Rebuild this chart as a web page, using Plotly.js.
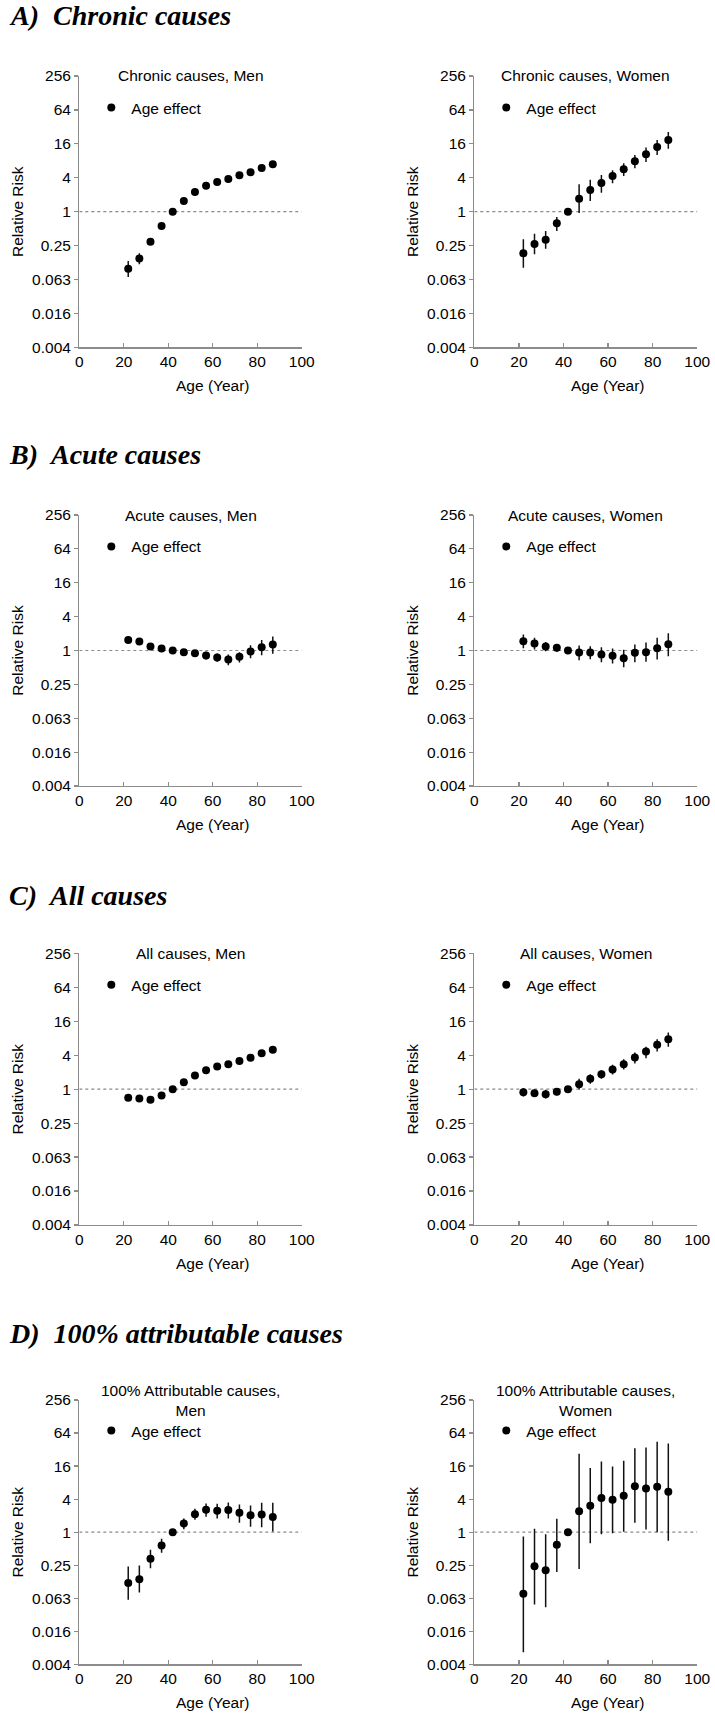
<!DOCTYPE html>
<html>
<head>
<meta charset="utf-8">
<script src="https://cdn.plot.ly/plotly-3.0.1.min.js"></script>
<style>
  body { margin: 0; background: #fff; }
  #chart { width: 715px; height: 1714px; }
</style>
</head>
<body>
<div id="chart"></div>
<script>
var W = 715, H = 1714;

// age groups (mid-points, years)
var ages = [22, 27, 32, 37, 42, 47, 52, 57, 62, 67, 72, 77, 82, 87];

// y axis: powers of 4, labelled the way the original does
var yTickVals = [0.00390625, 0.015625, 0.0625, 0.25, 1, 4, 16, 64, 256];
var yTickText = ['0.004', '0.016', '0.063', '0.25', '1', '4', '16', '64', '256'];
var xTickVals = [0, 20, 40, 60, 80, 100];
var refRR = 1;

// A) chronic causes
var chronicMen     = [0.097, 0.148, 0.293, 0.557, 1, 1.55, 2.23, 2.89, 3.36, 3.80, 4.42, 4.99, 5.96, 6.92];
var chronicMenHi   = [0.133, 0.182, 0.325, 0.60, 1, 1.65, 2.38, 3.07, 3.56, 4.02, 4.68, 5.30, 6.35, 7.45];
var chronicMenLo   = [0.069, 0.116, 0.262, 0.515, 1, 1.45, 2.09, 2.72, 3.17, 3.59, 4.17, 4.70, 5.60, 6.43];
var chronicWomen   = [0.182, 0.267, 0.318, 0.621, 1, 1.70, 2.42, 3.23, 4.30, 5.64, 7.82, 10.4, 14.1, 18.7];
var chronicWomenHi = [0.323, 0.407, 0.454, 0.804, 1, 3.06, 3.70, 4.48, 5.42, 7.21, 10.1, 13.7, 18.7, 25.9];
var chronicWomenLo = [0.101, 0.175, 0.220, 0.454, 1, 0.947, 1.55, 2.17, 3.18, 4.30, 5.88, 7.61, 10.1, 13.1];

// B) acute causes
var acuteMen     = [1.53, 1.45, 1.18, 1.085, 1, 0.934, 0.897, 0.815, 0.751, 0.692, 0.772, 0.960, 1.146, 1.278];
var acuteMenHi   = [1.75, 1.63, 1.33, 1.19, 1, 1.04, 1.0, 0.947, 0.885, 0.849, 0.934, 1.244, 1.53, 1.77];
var acuteMenLo   = [1.33, 1.28, 1.04, 0.976, 1, 0.837, 0.79, 0.692, 0.629, 0.549, 0.612, 0.731, 0.826, 0.872];
var acuteWomen   = [1.465, 1.33, 1.18, 1.115, 1, 0.921, 0.921, 0.849, 0.804, 0.731, 0.909, 0.934, 1.10, 1.296];
var acuteWomenHi = [1.925, 1.68, 1.41, 1.31, 1, 1.227, 1.194, 1.146, 1.085, 1.028, 1.278, 1.387, 1.68, 2.03];
var acuteWomenLo = [1.10, 1.04, 0.973, 0.947, 1, 0.673, 0.701, 0.620, 0.587, 0.506, 0.620, 0.629, 0.692, 0.793];

// C) all causes
var allMen     = [0.702, 0.683, 0.647, 0.772, 1, 1.33, 1.747, 2.17, 2.52, 2.77, 3.14, 3.59, 4.35, 4.98];
var allMenHi   = [0.74, 0.72, 0.68, 0.81, 1, 1.39, 1.82, 2.26, 2.62, 2.88, 3.27, 3.74, 4.55, 5.22];
var allMenLo   = [0.665, 0.645, 0.61, 0.73, 1, 1.26, 1.67, 2.07, 2.40, 2.65, 3.0, 3.43, 4.15, 4.75];
var allWomen   = [0.885, 0.849, 0.815, 0.897, 1, 1.226, 1.525, 1.845, 2.23, 2.77, 3.64, 4.65, 6.10, 7.69];
var allWomenHi = [1.04, 0.986, 0.973, 1.014, 1, 1.525, 1.845, 2.17, 2.70, 3.40, 4.47, 5.62, 7.69, 10.1];
var allWomenLo = [0.741, 0.731, 0.683, 0.783, 1, 0.986, 1.243, 1.525, 1.82, 2.23, 2.85, 3.54, 4.65, 5.62];

// D) 100% attributable causes
var attribMen     = [0.119, 0.139, 0.327, 0.572, 1, 1.44, 2.13, 2.55, 2.45, 2.52, 2.25, 2.04, 2.10, 1.88];
var attribMenHi   = [0.237, 0.247, 0.476, 0.756, 1, 1.774, 2.66, 3.33, 3.28, 3.47, 3.19, 3.06, 3.42, 3.42];
var attribMenLo   = [0.0584, 0.0795, 0.221, 0.420, 1, 1.134, 1.68, 1.90, 1.774, 1.774, 1.48, 1.25, 1.233, 1.028];
var attribWomen   = [0.0752, 0.240, 0.203, 0.588, 1, 2.41, 3.02, 4.17, 3.88, 4.60, 6.89, 6.25, 6.70, 5.43];
var attribWomenHi = [0.834, 1.15, 0.920, 1.75, 1, 26.8, 14.7, 19.4, 15.7, 20.0, 33.9, 34.9, 44.3, 41.3];
var attribWomenLo = [0.0065, 0.048, 0.043, 0.187, 1, 0.212, 0.630, 0.920, 0.959, 1.014, 1.48, 1.118, 1.0, 0.695];

var headings = ['A)\u00a0 Chronic causes', 'B)\u00a0 Acute causes', 'C)\u00a0 All causes', 'D)\u00a0 100% attributable causes'];

var panels = [
    {title: 'Chronic causes, Men', rr: chronicMen, hi: chronicMenHi, lo: chronicMenLo},
    {title: 'Chronic causes, Women', rr: chronicWomen, hi: chronicWomenHi, lo: chronicWomenLo},
    {title: 'Acute causes, Men', rr: acuteMen, hi: acuteMenHi, lo: acuteMenLo},
    {title: 'Acute causes, Women', rr: acuteWomen, hi: acuteWomenHi, lo: acuteWomenLo},
    {title: 'All causes, Men', rr: allMen, hi: allMenHi, lo: allMenLo},
    {title: 'All causes, Women', rr: allWomen, hi: allWomenHi, lo: allWomenLo},
    {title: '100% Attributable causes,<br>Men', rr: attribMen, hi: attribMenHi, lo: attribMenLo},
    {title: '100% Attributable causes,<br>Women', rr: attribWomen, hi: attribWomenHi, lo: attribWomenLo}
];

// pixel boxes of the plot areas
var cols = [[79.3, 301.7], [474.3, 697.3]];
var rows = [[76, 347.3], [515, 786], [953.3, 1225], [1400, 1664.3]];
var headingY = [16, 455, 895, 1333];

var sans = 'Liberation Sans, Arial, sans-serif';
var axisGrey = '#8c8c8c';

var data = [];
var layout = {
    width: W, height: H,
    margin: {l: 0, r: 0, t: 0, b: 0},
    paper_bgcolor: '#fff', plot_bgcolor: '#fff',
    font: {family: sans, size: 15.5, color: '#000'},
    annotations: [],
    showlegend: true
};

headings.forEach(function (h, r) {
    layout.annotations.push({
        text: '<b><i>' + h + '</i></b>',
        xref: 'paper', yref: 'paper', x: 7 / W, y: 1 - headingY[r] / H,
        xanchor: 'left', yanchor: 'middle', showarrow: false,
        font: {family: 'Liberation Serif, Times New Roman, serif', size: 28, color: '#000'}
    });
});

panels.forEach(function (p, i) {
    var n = i + 1;
    var sfx = n === 1 ? '' : String(n);
    var xa = 'x' + sfx, ya = 'y' + sfx;
    var col = cols[i % 2], row = rows[Math.floor(i / 2)];
    var legKey = 'legend' + sfx;

    // dotted reference line at RR = 1
    data.push({
        x: [xTickVals[0], xTickVals[xTickVals.length - 1]], y: [refRR, refRR],
        xaxis: xa, yaxis: ya, mode: 'lines', showlegend: false, hoverinfo: 'skip',
        line: {color: '#8a8a8a', width: 1.2, dash: 'dot'}
    });

    data.push({
        x: ages, y: p.rr, xaxis: xa, yaxis: ya,
        type: 'scatter', mode: 'markers', name: 'Age effect',
        legend: legKey,
        marker: {color: '#000', size: 8},
        error_y: {
            type: 'data', symmetric: false,
            array: p.hi.map(function (v, k) { return v - p.rr[k]; }),
            arrayminus: p.lo.map(function (v, k) { return p.rr[k] - v; }),
            color: '#111', thickness: 1.5, width: 0
        }
    });

    layout['xaxis' + sfx] = {
        domain: [col[0] / W, col[1] / W], anchor: ya,
        range: [0, 100], tickvals: xTickVals,
        ticks: 'inside', ticklen: 4, tickcolor: axisGrey, tickwidth: 1.2,
        showline: true, linecolor: axisGrey, linewidth: 1.3,
        showgrid: false, zeroline: false, fixedrange: true,
        tickfont: {family: sans, size: 15.5, color: '#000'}
    };
    layout['yaxis' + sfx] = {
        domain: [1 - row[1] / H, 1 - row[0] / H], anchor: xa,
        type: 'log',
        range: [Math.log10(yTickVals[0]), Math.log10(yTickVals[yTickVals.length - 1])],
        tickvals: yTickVals, ticktext: yTickText,
        ticks: 'outside', ticklen: 4, tickcolor: axisGrey, tickwidth: 1.2,
        showline: true, linecolor: axisGrey, linewidth: 1.3,
        showgrid: false, zeroline: false, fixedrange: true,
        tickfont: {family: sans, size: 15.5, color: '#000'}
    };

    // legend sits at the "64" level of each panel
    layout[legKey] = {
        x: (col[0] + 12) / W, y: 1 - (row[0] + (row[1] - row[0]) / 8 - 2) / H,
        xanchor: 'left', yanchor: 'middle',
        bgcolor: 'rgba(0,0,0,0)', borderwidth: 0,
        font: {family: sans, size: 15.5, color: '#000'},
        itemwidth: 30
    };

    layout.annotations.push({
        text: p.title, xref: xa + ' domain', yref: ya + ' domain',
        x: 0.5, y: 1, xanchor: 'center', yanchor: 'middle', showarrow: false,
        font: {family: sans, size: 15.5, color: '#000'}
    });
    layout.annotations.push({
        text: 'Relative Risk', xref: xa + ' domain', yref: ya + ' domain',
        x: 0, y: 0.5, xshift: -62, textangle: -90,
        xanchor: 'center', yanchor: 'middle', showarrow: false,
        font: {family: sans, size: 15.5, color: '#000'}
    });
    layout.annotations.push({
        text: 'Age (Year)', xref: xa + ' domain', yref: ya + ' domain',
        x: 0.6, y: 0, yshift: -38,
        xanchor: 'center', yanchor: 'middle', showarrow: false,
        font: {family: sans, size: 15.5, color: '#000'}
    });
});

Plotly.newPlot('chart', data, layout, {displayModeBar: false, staticPlot: true});
</script>
</body>
</html>
